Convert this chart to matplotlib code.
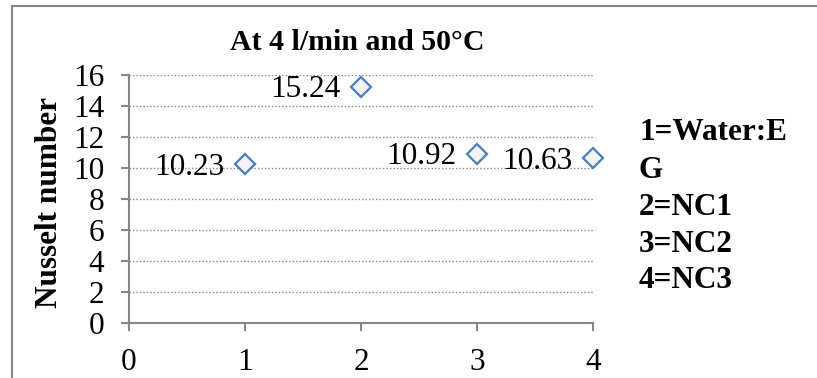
import matplotlib.pyplot as plt
from matplotlib.lines import Line2D

plt.rcParams["font.family"] = ["Liberation Serif", "DejaVu Serif"]

fluid = [1, 2, 3, 4]
nusselt = [10.23, 15.24, 10.92, 10.63]
key_lines = ["1=Water:E", "G", "2=NC1", "3=NC2", "4=NC3"]
title = "At 4 l/min and 50°C"

W, H = 817, 378
fig = plt.figure(figsize=(W / 100, H / 100), dpi=100)
ax = fig.add_axes([129 / W, 1 - 323 / H, (593 - 129) / W, (323 - 75) / H])

grey = "#868686"
# chart frame: only the top and left edges fall inside the image
fig.lines.append(Line2D([12 / W, 1], [1 - 6 / H, 1 - 6 / H],
                        transform=fig.transFigure, color=grey, linewidth=1.5))
fig.lines.append(Line2D([12 / W, 12 / W], [0, 1 - 6 / H],
                        transform=fig.transFigure, color=grey, linewidth=1.5))

ax.plot(fluid, nusselt, linestyle="none", marker="D", markersize=10.5,
        markerfacecolor="#f2f2f2", markeredgecolor="#4a7ebb",
        markeredgewidth=1.6, clip_on=False, zorder=3)

for x, y in zip(fluid, nusselt):
    ax.annotate(f"{y:.2f}", (x, y), xytext=(-15, -2), textcoords="offset points",
                ha="right", va="center", fontsize=22.5)

ax.set_xlim(0, 4)
ax.set_ylim(0, 16)
ax.set_xticks(range(0, 5))
ax.set_yticks(range(0, 17, 2))
ax.grid(axis="y", linestyle=(0, (1, 1.5)), color=grey, linewidth=1)
ax.set_axisbelow(True)
for side in ("top", "right"):
    ax.spines[side].set_visible(False)
for side in ("left", "bottom"):
    ax.spines[side].set_color(grey)
    ax.spines[side].set_linewidth(1.5)
ax.tick_params(axis="both", direction="out", length=6, width=1.5, color=grey,
               labelsize=22.5, pad=12)

fig.text(357 / W, 1 - 42 / H, title, ha="center", va="center",
         fontsize=21.5, fontweight="bold")
fig.text(50 / W, 1 - 203 / H, "Nusselt number", rotation=90, ha="center",
         va="center", fontsize=22.5, fontweight="bold")

key_y = [133, 170, 207, 244, 281]
for line, y in zip(key_lines, key_y):
    fig.text(639 / W, 1 - y / H, line, ha="left", va="center",
             fontsize=22.5, fontweight="bold")

fig.savefig("out.png", dpi=100)
